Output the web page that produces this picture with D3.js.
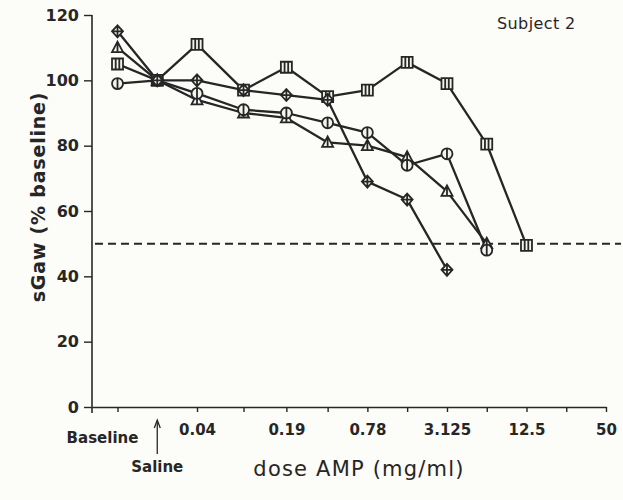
<!DOCTYPE html>
<html>
<head>
<meta charset="utf-8">
<script src="https://cdn.jsdelivr.net/npm/d3@7/dist/d3.min.js"></script>
<style>
  html, body { margin: 0; padding: 0; background: #fcfcf8; }
  svg { display: block; }
  text { fill: #262626; }
</style>
</head>
<body>
<svg id="chart" width="623" height="500"></svg>
<script>
// Dose steps (mg/ml). Baseline and Saline sit one and two doubling steps below the first dose.
const doseLabels = ["Baseline", "Saline", "0.04", "0.09", "0.19", "0.39", "0.78", "1.56", "3.125", "6.25", "12.5"];
const doseValues = [0.01, 0.02, 0.04, 0.09, 0.19, 0.39, 0.78, 1.56, 3.125, 6.25, 12.5];

// sGaw as % of baseline, one array per challenge
const diamondSeries  = [115, 100, 100, 97, 95.5, 94, 69, 63.5, 42];
const triangleSeries = [110, 100, 94, 90, 88.5, 81, 80, 76.5, 66, 50];
const squareSeries   = [105, 100, 111, 97, 104, 95, 97, 105.5, 99, 80.5, 49.5];
const circleSeries   = [99, 100, 96, 91, 90, 87, 84, 74, 77.5, 48];

// Axis ticks
const xTickValues = [0.01, 0.02, 0.04, 0.09, 0.19, 0.39, 0.78, 1.56, 3.125, 6.25, 12.5, 25, 50];
const xTickLabels = {0.04: "0.04", 0.19: "0.19", 0.78: "0.78", 3.125: "3.125", 12.5: "12.5", 50: "50"};
const yTickValues = [0, 20, 40, 60, 80, 100, 120];
const thresholdLevel = 50;

const ink = "#262626";
const tickFont = {family: "DejaVu Sans", weight: "bold", size: "15px"};
const svg = d3.select("#chart");

const x = d3.scaleLog().domain([0.00641, 50]).range([92, 606]);
const y = d3.scaleLinear().domain([0, 120]).range([407, 15]);

function styleText(sel, f) {
  return sel.style("font-family", f.family)
    .style("font-weight", f.weight || "normal")
    .style("font-size", f.size)
    .attr("fill", ink);
}

// Y axis
const yAxis = svg.append("g")
  .attr("transform", `translate(${x.range()[0]},0)`)
  .call(d3.axisLeft(y).tickValues(yTickValues).tickSize(8).tickSizeOuter(0).tickPadding(5));
yAxis.select(".domain").remove();
yAxis.append("line")
  .attr("x1", 0).attr("x2", 0)
  .attr("y1", y(0) + 6).attr("y2", y(120))
  .attr("stroke", ink).attr("stroke-width", 1.6);
yAxis.selectAll(".tick line").attr("stroke", ink).attr("stroke-width", 1.4);
styleText(yAxis.selectAll(".tick text"), {family: "DejaVu Sans", weight: "bold", size: "16px"});

// X axis
const xAxis = svg.append("g")
  .attr("transform", `translate(0,${y(0)})`)
  .call(d3.axisBottom(x).tickValues(xTickValues).tickSize(5).tickSizeOuter(0).tickPadding(12)
    .tickFormat(d => xTickLabels[d] || ""));
xAxis.select(".domain").attr("stroke", ink).attr("stroke-width", 1.6);
xAxis.selectAll(".tick line").attr("stroke", ink).attr("stroke-width", 1.4);
xAxis.selectAll(".tick").filter(d => d === 0.02).select("line").remove();
styleText(xAxis.selectAll(".tick text"), tickFont);

// Baseline label under the first step
styleText(svg.append("text")
  .attr("x", x(doseValues[0]) - 15).attr("y", y(0) + 36)
  .attr("text-anchor", "middle")
  .text(doseLabels[0]), tickFont);

// Saline arrow and label
const sx = x(doseValues[1]);
svg.append("line")
  .attr("x1", sx).attr("x2", sx)
  .attr("y1", y(0) + 15).attr("y2", y(0) + 47)
  .attr("stroke", ink).attr("stroke-width", 1.3);
svg.append("path")
  .attr("d", `M${sx - 3},${y(0) + 21} L${sx},${y(0) + 13} L${sx + 3},${y(0) + 21}`)
  .attr("fill", "none").attr("stroke", ink).attr("stroke-width", 1.3);
styleText(svg.append("text")
  .attr("x", sx).attr("y", y(0) + 65)
  .attr("text-anchor", "middle")
  .text(doseLabels[1]), tickFont);

// Axis titles
styleText(svg.append("text")
  .attr("x", 359).attr("y", 476)
  .attr("text-anchor", "middle")
  .style("letter-spacing", "1.2px")
  .text("dose AMP (mg/ml)"), {family: "DejaVu Sans", size: "21px"});

styleText(svg.append("text")
  .attr("transform", `translate(45,197) rotate(-90)`)
  .attr("text-anchor", "middle")
  .style("letter-spacing", "0.8px")
  .text("sGaw (% baseline)"), {family: "DejaVu Sans", weight: "bold", size: "19px"});

styleText(svg.append("text")
  .attr("x", 497).attr("y", 29)
  .style("letter-spacing", "0.4px")
  .text("Subject 2"), {family: "DejaVu Sans", size: "16px"});

// 50% threshold
svg.append("line")
  .attr("x1", x.range()[0] + 3).attr("x2", 621)
  .attr("y1", y(thresholdLevel)).attr("y2", y(thresholdLevel))
  .attr("stroke", ink).attr("stroke-width", 2).attr("stroke-dasharray", "8,5");

// Series
const seriesList = [
  {name: "square", values: squareSeries},
  {name: "triangle", values: triangleSeries},
  {name: "circle", values: circleSeries},
  {name: "diamond", values: diamondSeries}
];

const line = d3.line()
  .x((d, i) => x(doseValues[i]))
  .y(d => y(d));

svg.append("g").selectAll("path")
  .data(seriesList)
  .join("path")
  .attr("d", s => line(s.values))
  .attr("fill", "none")
  .attr("stroke", ink)
  .attr("stroke-width", 2.3)
  .attr("stroke-linejoin", "round");

// Marker shapes, centred on the origin
const markerPath = {
  square:   "M-5.5,-5.5H5.5V5.5H-5.5Z M-1.8,-5.5V5.5 M1.8,-5.5V5.5",
  triangle: "M0,-6L5.5,4.5H-5.5Z M0,-6V4.5",
  circle:   "M5.5,0A5.5,5.5 0 1,1 -5.5,0A5.5,5.5 0 1,1 5.5,0Z M0,-5.5V5.5",
  diamond:  "M0,-6L5.5,0L0,6L-5.5,0Z M0,-6V6 M-5.5,0H5.5"
};

seriesList.forEach(s => {
  svg.append("g").selectAll("path")
    .data(s.values)
    .join("path")
    .attr("transform", (d, i) => `translate(${x(doseValues[i])},${y(d)})`)
    .attr("d", markerPath[s.name])
    .attr("fill", "#f4f4ee")
    .attr("stroke", ink)
    .attr("stroke-width", 1.8);
});
</script>
</body>
</html>
